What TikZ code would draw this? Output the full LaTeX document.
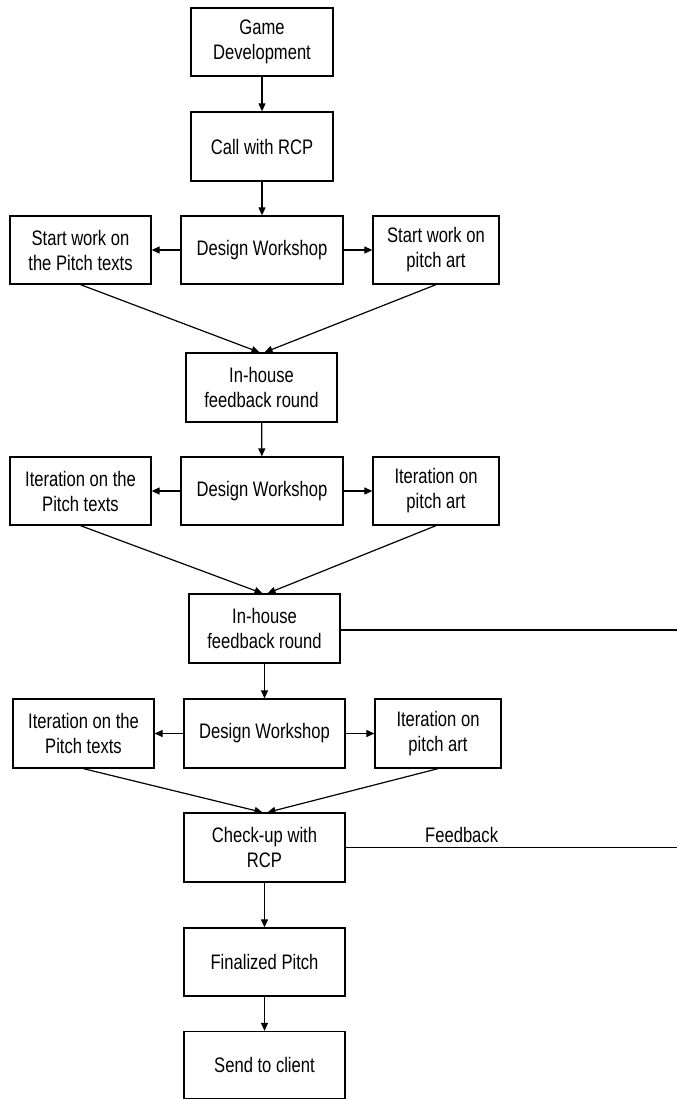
\documentclass[tikz,border=0pt]{standalone}
\usepackage{fontspec}
\setmainfont{Liberation Sans}[FakeStretch=0.79]
\usetikzlibrary{arrows.meta}
\begin{document}
\begin{tikzpicture}[x=1pt,y=-1pt,
  box/.style={draw, line width=1.3pt, rectangle, inner sep=0pt, align=center,
    font=\fontsize{21}{25}\selectfont},
  link/.style={line width=1.2pt, -{Triangle[length=8pt,width=7pt]}},
  plain/.style={line width=1.2pt}]
\useasboundingbox (0,0) rectangle (677,1099);

% main column
\node[box, minimum width=142pt, minimum height=68pt] (gd)  at (262,42)    {Game\\Development};
\node[box, minimum width=142pt, minimum height=69pt] (crp) at (262,146.5) {Call with RCP};

% first workshop row
\node[box, minimum width=141pt, minimum height=68pt] (lt1) at (80.5,250) {Start work on\\the Pitch texts};
\node[box, minimum width=162pt, minimum height=68pt] (dw1) at (262,250)  {Design Workshop};
\node[box, minimum width=126pt, minimum height=68pt] (rt1) at (436,250)  {Start work on\\pitch art};

\node[box, minimum width=151pt, minimum height=69pt] (ih1) at (261.5,387.5) {In-house\\feedback round};

% second workshop row
\node[box, minimum width=141pt, minimum height=68pt] (lt2) at (80.5,491) {Iteration on the\\Pitch texts};
\node[box, minimum width=162pt, minimum height=68pt] (dw2) at (262,491)  {Design Workshop};
\node[box, minimum width=126pt, minimum height=68pt] (rt2) at (436,491)  {Iteration on\\pitch art};

\node[box, minimum width=151pt, minimum height=69pt] (ih2) at (264.5,628.5) {In-house\\feedback round};

% third workshop row
\node[box, minimum width=141pt, minimum height=69pt] (lt3) at (83.5,733.5) {Iteration on the\\Pitch texts};
\node[box, minimum width=161pt, minimum height=69pt] (dw3) at (264.5,733.5) {Design Workshop};
\node[box, minimum width=126pt, minimum height=69pt] (rt3) at (438,733.5)  {Iteration on\\pitch art};

\node[box, minimum width=161pt, minimum height=69pt] (cu) at (264.5,847.5) {Check-up with\\RCP};
\node[box, minimum width=161pt, minimum height=68pt] (fp) at (264.5,962)   {Finalized Pitch};
\node[box, minimum width=161pt, minimum height=67pt] (sc) at (264.5,1065)  {Send to client};

% loose ends of the feedback lines
\coordinate (fbA) at (677,630);
\coordinate (fbB) at (677,847.5);

% vertical flow
\draw[link] (gd) -- (crp);
\draw[link] (crp) -- (dw1);
\draw[link] (ih1) -- (dw2);
\draw[link] (ih2) -- (dw3);
\draw[link] (cu) -- (fp);
\draw[link] (fp) -- (sc);

% workshops branch out
\draw[link] (dw1) -- (lt1);
\draw[link] (dw1) -- (rt1);
\draw[link] (dw2) -- (lt2);
\draw[link] (dw2) -- (rt2);
\draw[link] (dw3) -- (lt3);
\draw[link] (dw3) -- (rt3);

% branches merge again
\draw[link] (lt1.south) -- ([xshift=-2pt]ih1.north);
\draw[link] (rt1.south) -- ([xshift=3pt]ih1.north);
\draw[link] (lt2.south) -- ([xshift=-2pt]ih2.north);
\draw[link] (rt2.south) -- ([xshift=3pt]ih2.north);
\draw[link] (lt3.south) -- ([xshift=-2pt]cu.north);
\draw[link] (rt3.south) -- ([xshift=3pt]cu.north);

% feedback lines
\draw[plain] (ih2.east |- fbA) -- (fbA);
\draw[plain] (cu.east) -- (fbB)
  node[pos=0.35, above=1pt, font=\fontsize{21}{25}\selectfont] (fbl) {Feedback};
\end{tikzpicture}
\end{document}
